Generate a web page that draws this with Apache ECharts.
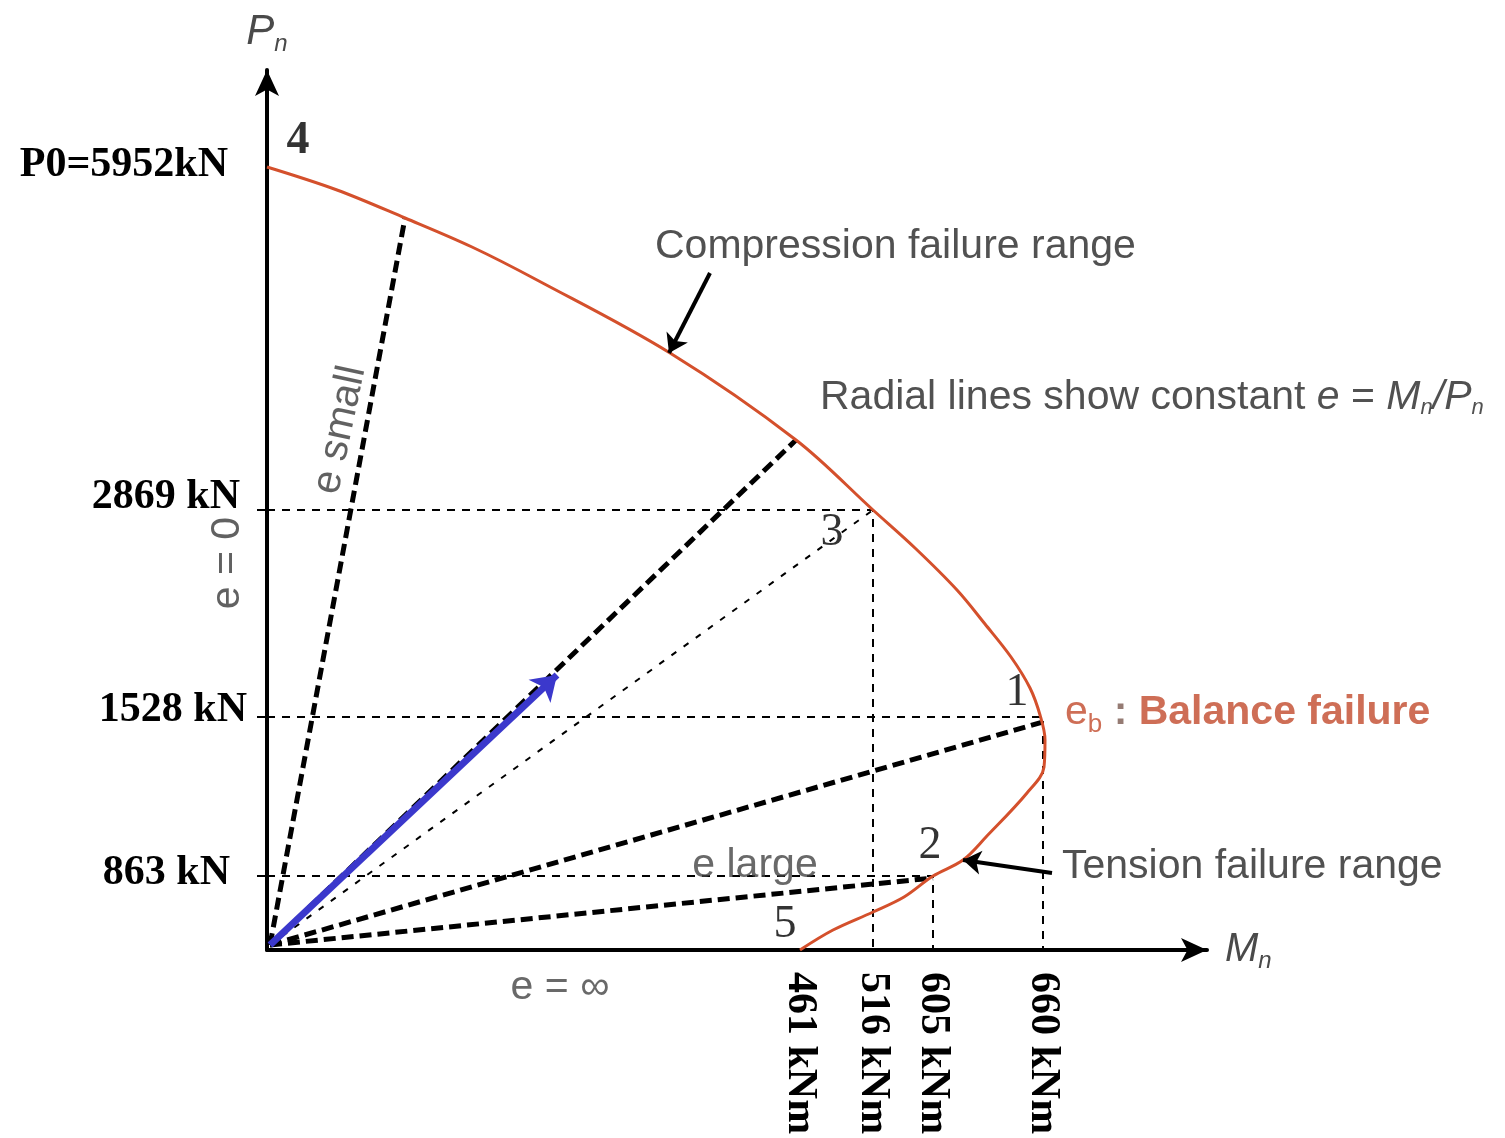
<!DOCTYPE html>
<html>
<head>
<meta charset="utf-8">
<script src="https://cdn.jsdelivr.net/npm/echarts@6/dist/echarts.min.js"></script>
<style>
html, body { margin: 0; padding: 0; background: #ffffff; }
#chart { width: 1505px; height: 1138px; }
</style>
</head>
<body>
<div id="chart"></div>
<script>
// Schematic interaction diagram (not to scale): values are in diagram units
// read off the picture along the Mn (x) and Pn (y) axes.
const curveMoment = [0, 70, 138, 205, 270, 403, 529, 606, 648, 690, 718, 744, 763, 773, 778, 777, 760, 719, 696, 666, 637, 606, 566, 533];
const curveAxial  = [783, 760, 732, 703, 670, 597, 510, 440, 402, 360, 326, 293, 262, 235, 210, 183, 157, 113, 90, 74, 53, 38, 20, 0];

const momentTickValues = [533, 606, 666, 776];
const momentTickLabels = ['461 kNm', '516 kNm', '605 kNm', '660 kNm'];
const axialTickValues = [74, 233, 440, 783];
const axialTickLabels = ['863 kN', '1528 kN', '2869 kN', 'P0=5952kN'];

const keyPointNames  = ['1', '2', '3', '4', '5'];
const keyPointMoment = [776, 666, 606, 0, 533];
const keyPointAxial  = [233, 74, 440, 783, 0];

// radial lines of constant eccentricity (thick dashed) – end points on the curve
const radialMoment = [138, 529, 776, 666];
const radialAxial  = [732, 510, 228, 72];
const radialOrigin = [3, 5];

// loading path arrow (blue)
const loadPathMoment = [3, 290];
const loadPathAxial  = [5, 275];

// leader arrows
const compressionLeader = [[443, 677], [402, 597]];
const tensionLeader = [[785, 77], [696, 90]];

const SANS = 'Liberation Sans, Arial, sans-serif';
const SERIF = 'Liberation Serif, Times New Roman, serif';
const TEXT = '#262626';
const RED = '#c24a2c';

const chart = echarts.init(document.getElementById('chart'), null, { renderer: 'canvas' });

const series = [];

// thin dashed guide lines to the key points 3, 1, 2
[2, 0, 1].forEach(function (k) {
  series.push({
    type: 'line', silent: true, symbol: 'none', clip: false, z: 2,
    lineStyle: { color: '#000', width: 2, type: [8, 7] },
    data: [[0, keyPointAxial[k]], [keyPointMoment[k], keyPointAxial[k]], [keyPointMoment[k], 0]]
  });
});

// thin radial line to point 3
series.push({
  type: 'line', silent: true, symbol: 'none', z: 3,
  lineStyle: { color: '#000', width: 2, type: [6, 9] },
  data: [radialOrigin, [keyPointMoment[2], keyPointAxial[2]]]
});

// thick dashed radial lines
radialMoment.forEach(function (m, i) {
  series.push({
    type: 'line', silent: true, symbol: 'none', z: 3,
    lineStyle: { color: '#000', width: 5, type: [12, 6] },
    data: [radialOrigin, [m, radialAxial[i]]]
  });
});

// interaction curve
series.push({
  type: 'line', silent: true, symbol: 'none', smooth: 0.35, z: 4,
  lineStyle: { color: '#d4502c', width: 3 },
  data: curveMoment.map(function (m, i) { return [m, curveAxial[i]]; })
});

// arrows (blue load path + black leaders)
function arrowItem(a, b, color, width, size) {
  return [
    { coord: a, symbol: 'none' },
    { coord: b, symbol: 'arrow', symbolSize: size, lineStyle: { color: color, width: width, type: 'solid' } }
  ];
}
series.push({
  type: 'line', silent: true, symbol: 'none', z: 5,
  lineStyle: { opacity: 0 },
  data: [[0, 0]],
  markLine: {
    silent: true, animation: false, precision: 2,
    label: { show: false },
    emphasis: { disabled: true },
    lineStyle: { type: 'solid' },
    data: [
      arrowItem([loadPathMoment[0], loadPathAxial[0]], [loadPathMoment[1], loadPathAxial[1]], '#3b38cc', 7, 24),
      arrowItem(compressionLeader[0], compressionLeader[1], '#000', 4, 18),
      arrowItem(tensionLeader[0], tensionLeader[1], '#000', 4, 18)
    ]
  }
});

// key point numbers
series.push({
  type: 'scatter', silent: true, symbolSize: 0, clip: false, z: 6,
  data: keyPointNames.map(function (n, i) {
    const offsets = [[-26, -24], [-3, -30], [-41, 23], [31, -26], [-15, -25]];
    return {
      value: [keyPointMoment[i], keyPointAxial[i]],
      label: {
        show: true, formatter: n, position: [0, 0], align: 'center', verticalAlign: 'middle',
        offset: offsets[i], fontFamily: SERIF, fontSize: 46, color: '#000',
        fontWeight: n === '4' ? 'bold' : 'normal'
      }
    };
  })
});

// text annotations
const textBase = { show: true, position: [0, 0], fontFamily: SANS, fontSize: 41, color: TEXT };
function note(pos, formatter, extra) {
  return { value: pos, label: Object.assign({}, textBase, { formatter: formatter, align: 'left', verticalAlign: 'middle' }, extra || {}) };
}
series.push({
  type: 'scatter', silent: true, symbolSize: 0, clip: false, z: 7,
  data: [
    note([388, 703], 'Compression failure range'),
    note([553, 552], 'Radial lines show constant {i|e} = {i|M}{s|n}{i|/P}{s|n}', {
      rich: {
        i: { fontFamily: SANS, fontSize: 41, fontStyle: 'italic', color: TEXT },
        s: { fontFamily: SANS, fontSize: 22, fontStyle: 'italic', color: TEXT, verticalAlign: 'bottom', padding: [14, 0, 0, 0] }
      }
    }),
    note([798, 237], '{e|e}{b|b}{c| : }{t|Balance failure}', {
      rich: {
        e: { fontFamily: SANS, fontSize: 41, color: RED },
        b: { fontFamily: SANS, fontSize: 26, color: RED, verticalAlign: 'bottom', padding: [24, 0, 0, 0] },
        c: { fontFamily: SANS, fontSize: 41, color: '#7a5a50', fontWeight: 'bold' },
        t: { fontFamily: SANS, fontSize: 41, color: RED, fontWeight: 'bold' }
      }
    }),
    note([795, 83], 'Tension failure range'),
    note([73, 520], 'e small', { align: 'center', rotate: 78, color: '#3a3a3a' }),
    note([-39, 387], 'e = 0', { align: 'center', rotate: 90, color: '#3a3a3a' }),
    note([293, -38], 'e = \u221e', { align: 'center', color: '#444' }),
    note([488, 84], 'e large', { align: 'center', color: '#444' })
  ]
});

const option = {
  animation: false,
  backgroundColor: '#ffffff',
  grid: { left: 267, top: 70, width: 940, height: 880, containLabel: false, outerBoundsMode: 'none' },
  xAxis: {
    type: 'value', min: 0, max: 940,
    name: '{m|M}{n|n}', nameLocation: 'end', nameGap: 18,
    nameTextStyle: {
      rich: {
        m: { fontFamily: SANS, fontSize: 40, fontStyle: 'italic', color: '#4a4a4a' },
        n: { fontFamily: SANS, fontSize: 24, fontStyle: 'italic', color: '#4a4a4a', verticalAlign: 'bottom', padding: [22, 0, 0, 0] }
      }
    },
    splitLine: { show: false },
    axisLine: { show: true, onZero: false, symbol: ['none', 'arrow'], symbolSize: [18, 26], lineStyle: { color: '#000', width: 4 } },
    axisTick: { show: false },
    axisLabel: {
      customValues: momentTickValues,
      rotate: -90, margin: 22,
      fontFamily: SERIF, fontWeight: 'bold', fontSize: 42, color: '#000',
      formatter: function (v) { return momentTickLabels[momentTickValues.indexOf(v)]; }
    }
  },
  yAxis: {
    type: 'value', min: 0, max: 880,
    name: '{p|P}{n|n}', nameLocation: 'end', nameGap: 14,
    nameTextStyle: {
      rich: {
        p: { fontFamily: SANS, fontSize: 42, fontStyle: 'italic', color: '#4a4a4a' },
        n: { fontFamily: SANS, fontSize: 24, fontStyle: 'italic', color: '#4a4a4a', verticalAlign: 'bottom', padding: [24, 0, 0, 0] }
      }
    },
    splitLine: { show: false },
    axisLine: { show: true, onZero: false, symbol: ['none', 'arrow'], symbolSize: [18, 26], lineStyle: { color: '#000', width: 4 } },
    axisTick: { show: true, customValues: axialTickValues.slice(0, 3), length: 10, lineStyle: { color: '#000', width: 2 } },
    axisLabel: {
      customValues: axialTickValues,
      margin: 20,
      fontFamily: SERIF, fontWeight: 'bold', fontSize: 42, color: '#000',
      formatter: function (v) { const i = axialTickValues.indexOf(v); return '{t' + i + '|' + axialTickLabels[i] + '}'; },
      rich: {
        t0: { fontFamily: SERIF, fontWeight: 'bold', fontSize: 42, color: '#000', padding: [0, 17, 6, 0] },
        t1: { fontFamily: SERIF, fontWeight: 'bold', fontSize: 42, color: '#000', padding: [0, 0, 14, 0] },
        t2: { fontFamily: SERIF, fontWeight: 'bold', fontSize: 42, color: '#000', padding: [0, 7, 26, 0] },
        t3: { fontFamily: SERIF, fontWeight: 'bold', fontSize: 42, color: '#000', padding: [0, 19, 4, 0] }
      }
    }
  },
  series: series
};

chart.setOption(option);
</script>
</body>
</html>
